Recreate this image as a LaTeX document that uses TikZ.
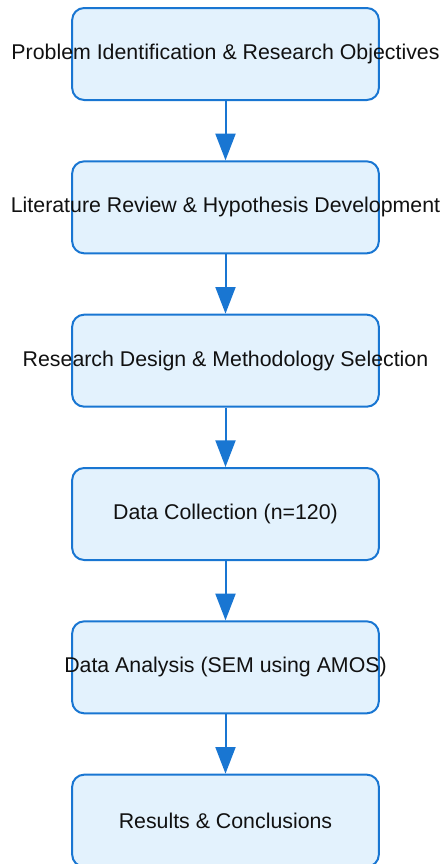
\documentclass[tikz,border=0pt]{standalone}
\usepackage{fontspec}
\setmainfont{Liberation Sans}
\usetikzlibrary{positioning,arrows.meta}
\definecolor{boxfill}{HTML}{E3F2FD}
\definecolor{boxline}{HTML}{1976D2}
\definecolor{txt}{HTML}{111111}
\begin{document}
\begin{tikzpicture}[x=0.75pt,y=0.75pt,
  stage/.style={draw=boxline, fill=boxfill, line width=1.5pt, rounded corners=9pt,
    minimum width=230pt, minimum height=69pt, inner sep=0pt, text=txt, font=\fontsize{16}{19}\selectfont},
  flow/.style={draw=boxline, line width=1.5pt, -{Triangle[length=20pt,width=15pt]}},
  node distance=44.5pt]
\useasboundingbox (0,0) rectangle (445,-864);
\node[stage] (problem) at (225.5,-54) {\makebox[0pt]{Problem Identification \& Research Objectives}};
\node[stage, below=of problem] (review) {\makebox[0pt]{Literature Review \& Hypothesis Development}};
\node[stage, below=of review] (design) {\makebox[0pt]{Research Design \& Methodology Selection}};
\node[stage, below=of design] (collect) {\makebox[0pt]{Data Collection (n=120)}};
\node[stage, below=of collect] (analysis) {\makebox[0pt]{Data Analysis (SEM using AMOS)}};
\node[stage, below=of analysis] (results) {\makebox[0pt]{Results \& Conclusions}};
\draw[flow] (problem) -- (review);
\draw[flow] (review) -- (design);
\draw[flow] (design) -- (collect);
\draw[flow] (collect) -- (analysis);
\draw[flow] (analysis) -- (results);
\end{tikzpicture}
\end{document}
